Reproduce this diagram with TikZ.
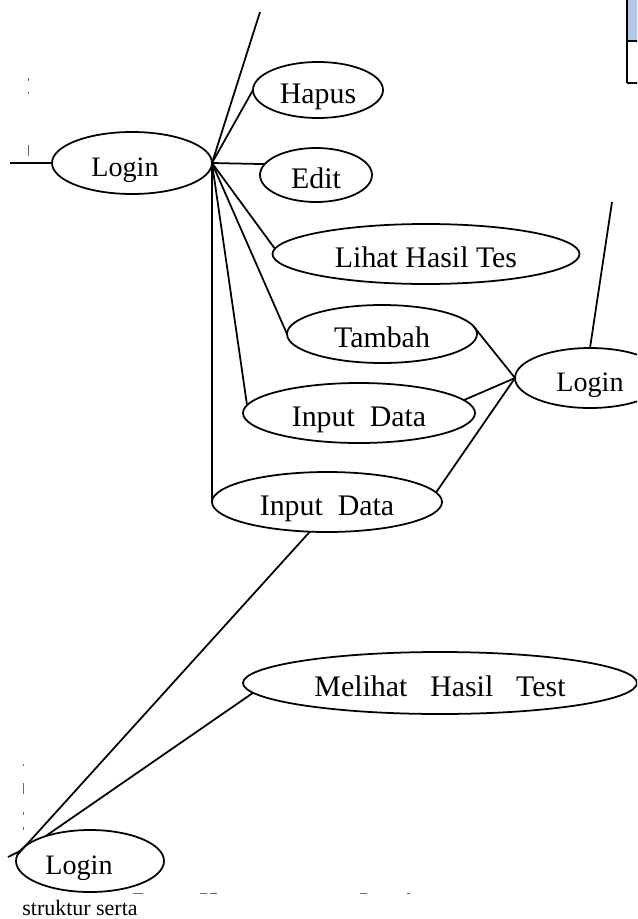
\documentclass[tikz,border=0pt]{standalone}
\usepackage{fontspec}
\setmainfont{Liberation Serif}
\usetikzlibrary{shapes.geometric}
\definecolor{headblue}{RGB}{180,199,231}
\tikzset{
	uc/.style={ellipse, draw, line width=1pt, inner sep=0pt, outer sep=0pt, text height=15pt, text depth=0pt, font=\fontsize{17}{20}\selectfont},
	ucsmall/.style={uc, font=\fontsize{16}{19}\selectfont},
	link/.style={line width=1pt},
	frag/.style={line width=0.5pt, black!60}
}
\begin{document}
\begin{tikzpicture}[x=0.2mm, y=-0.2mm]
		\useasboundingbox (0,0) rectangle (637,919);
		\clip (0,0) rectangle (637,919);
		%table corner top right
		\fill[headblue] (627,0) rectangle (640,41);
		\draw[line width=1.2pt] (627,0) -- (627,83);
		\draw[line width=1.2pt] (627,41) -- (640,41);
		\draw[line width=1.2pt] (627,83) -- (640,83);
		%first diagram
		\node[ucsmall, minimum width=32mm, minimum height=12.4mm] (login1) at (132,163) {Login\hspace*{2.8mm}};
		\node[uc, minimum width=26mm, minimum height=11.2mm] (hapus) at (318,90) {Hapus};
		\node[uc, minimum width=22.4mm, minimum height=10.8mm] (edit) at (316,175) {Edit};
		\node[uc, minimum width=61.4mm, minimum height=12mm] (lihat) at (426,254) {Lihat Hasil Tes};
		\node[uc, minimum width=38mm, minimum height=11.6mm] (tambah) at (382,334) {Tambah};
		\node[uc, minimum width=46.4mm, minimum height=12mm] (input1) at (359,413) {Input\ \ Data};
		\node[uc, minimum width=46mm, minimum height=12mm] (input2) at (327,502) {Input\ \ Data};
		\coordinate (actor1) at (10,163);
		\coordinate (top1) at (260,12);
		\draw[link] (actor1) -- (login1.west);
		\draw[link] (login1.east) -- (top1);
		\draw[link] (login1.east) -- (hapus.west);
		\draw[link] (login1.east) -- (edit.168);
		\draw[link] (login1.east) -- (lihat.178);
		\draw[link] (login1.east) -- (tambah.west);
		\draw[link] (login1.east) -- (input1.176);
		\draw[link] (login1.east) -- (login1.east |- input2.west);
		%second diagram
		\node[ucsmall, minimum width=30mm, minimum height=12mm] (login2) at (590,378) {Login};
		\coordinate (top2) at (612,202);
		\draw[link] (login2.north) -- (top2);
		\draw[link] (tambah.5) -- (login2.west);
		\draw[link] (input1.7) -- (login2.west);
		\draw[link] (input2.5) -- (login2.west);
		%third diagram
		\node[ucsmall, minimum width=29.6mm, minimum height=12.4mm] (login3) at (90,861) {Login\hspace*{4.4mm}};
		\node[uc, minimum width=78.8mm, minimum height=12.4mm] (melihat) at (440,683) {Melihat\hspace{13pt}Hasil\hspace{13pt}Test};
		\coordinate (actor3) at (8,857);
		\draw[link] (actor3) -- (login3.172);
		\draw[link] (login3.175) -- (input2.240);
		\draw[link] (login3.151) -- (melihat.183);
		%cut text at the edges
		\draw[frag] (28,78) -- (28,81);
		\draw[frag] (28,92) -- (28,94);
		\draw[frag] (28,145) -- (28,156);
		\draw[frag] (23,764) -- (23,766);
		\draw[frag] (23,783) -- (23,794);
		\draw[frag] (23,812) -- (23,815);
		\draw[frag] (23,827) -- (23,830);
		\draw[frag] (133,893) -- (143,893);
		\draw[frag] (200,893) -- (207,893);
		\draw[frag] (210,893) -- (217,893);
		\draw[frag] (360,893) -- (367,893);
		\draw[frag] (407,893) -- (410,893);
		\node[anchor=west, inner sep=0pt, font=\fontsize{12.5}{15}\selectfont] (caption) at (22,908) {struktur serta};
	\end{tikzpicture}
\end{document}
